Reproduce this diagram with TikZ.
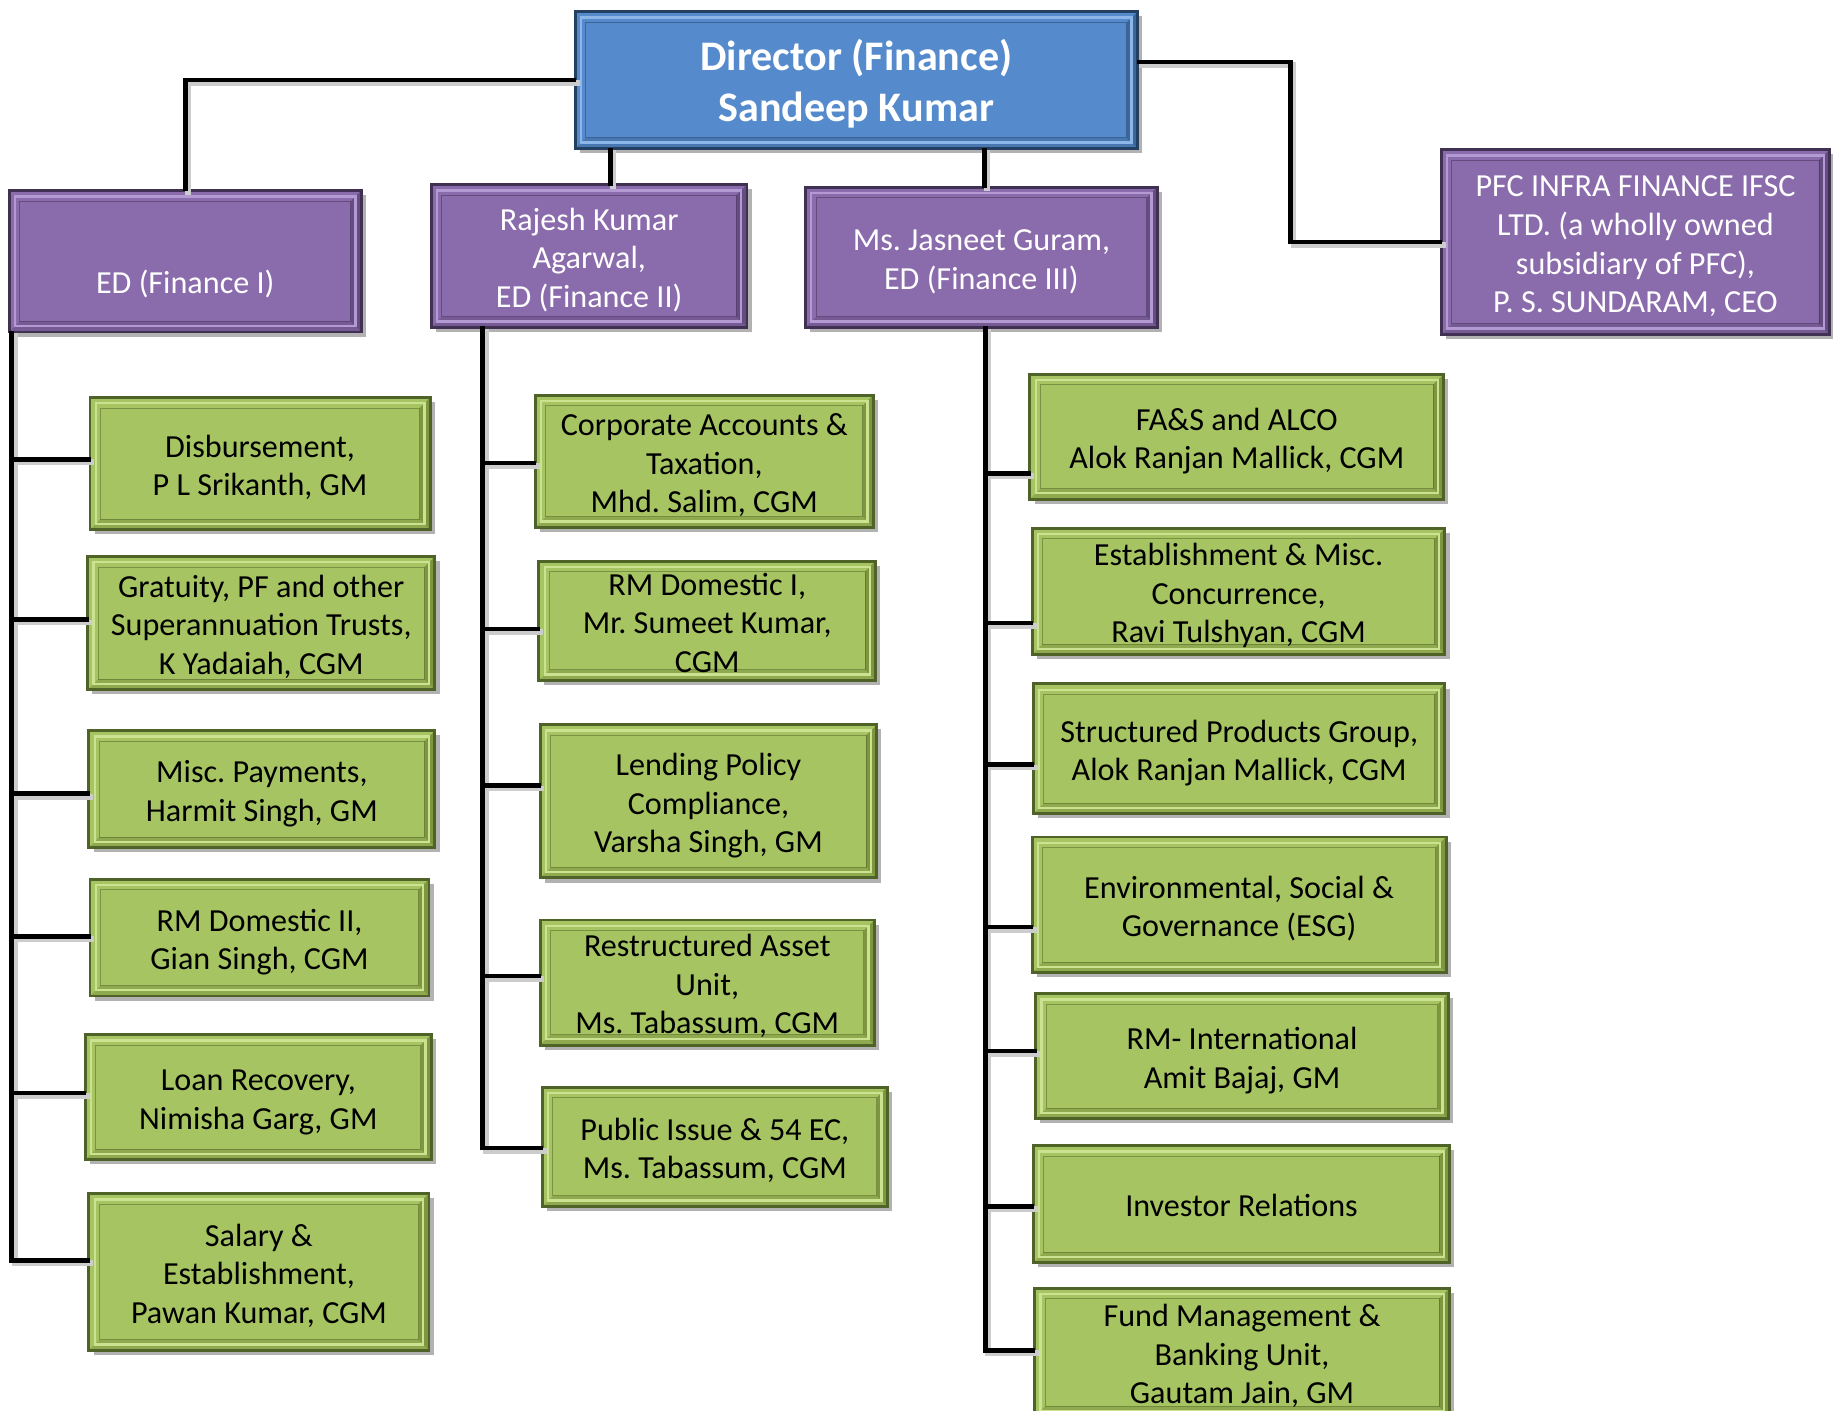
\documentclass[tikz,border=0pt]{standalone}
\usepackage{fontspec}
\setmainfont{Carlito}
\frenchspacing
\usetikzlibrary{shadows,calc}
\definecolor{gmain}{HTML}{A6C462}
\definecolor{gdark}{HTML}{4F6228}
\definecolor{gshade}{HTML}{7D963F}
\definecolor{glight}{HTML}{CBE291}
\definecolor{pmain}{HTML}{8A6BAC}
\definecolor{pdark}{HTML}{403152}
\definecolor{pshade}{HTML}{654D82}
\definecolor{plight}{HTML}{B49AD2}
\definecolor{bmain}{HTML}{558BCC}
\definecolor{bdark}{HTML}{244061}
\definecolor{bshade}{HTML}{3C6699}
\definecolor{blight}{HTML}{8CB6E8}
\newcommand\tsh{26pt}
\newcommand\tsd{10pt}
\tikzset{
  conn/.style={line width=4pt, line cap=rect, draw=black},
  connsh/.style={line width=5pt, line cap=rect, draw=black!20, transform canvas={shift={(2.5pt,-2.5pt)}}},
  bevelbox/.style n args={4}{rectangle, inner sep=0pt, align=center,
    fill=#1, draw=#2, line width=2.5pt,
    drop shadow={shadow xshift=4pt, shadow yshift=-4pt, opacity=0.3, fill=black},
    path picture={
      \fill[#3] (path picture bounding box.north east)
        -- ([shift={(-9pt,-9pt)}]path picture bounding box.north east)
        -- ([shift={(-9pt,9pt)}]path picture bounding box.south east)
        -- (path picture bounding box.south east) -- cycle;
      \fill[#3, opacity=0.55] (path picture bounding box.south east)
        -- ([shift={(-9pt,9pt)}]path picture bounding box.south east)
        -- ([shift={(9pt,9pt)}]path picture bounding box.south west)
        -- (path picture bounding box.south west) -- cycle;
      \draw[#4, line width=2pt] ([shift={(5pt,5pt)}]path picture bounding box.south west)
        rectangle ([shift={(-5pt,-5pt)}]path picture bounding box.north east);
      \draw[#2, line width=0.8pt, opacity=0.5] ([shift={(9pt,9pt)}]path picture bounding box.south west)
        rectangle ([shift={(-9pt,-9pt)}]path picture bounding box.north east);
    }},
  gbox/.style={bevelbox={gmain}{gdark}{gshade}{glight}, text=black,
    font=\fontsize{27.5}{33}\selectfont\renewcommand\tsh{29pt}\renewcommand\tsd{7pt}},
  pbox/.style={bevelbox={pmain}{pdark}{pshade}{plight}, text=white,
    font=\fontsize{27.5}{33}\selectfont\renewcommand\tsh{29pt}\renewcommand\tsd{7pt}},
  dbox/.style={bevelbox={bmain}{bdark}{bshade}{blight}, text=white,
    font=\bfseries\fontsize{36}{44}\selectfont\renewcommand\tsh{35.5pt}\renewcommand\tsd{8.5pt}},
}
\newcommand\mkbox[7]{\node[#2, minimum width=#5pt, minimum height=#6pt] (#1) at (#3,#4)
  {\rule{0pt}{\tsh}#7\rule[-\tsd]{0pt}{\tsd}};}
\newcommand\brn[4]{\coordinate (b#3) at ($(#3.west)+(0,#4)$); \draw[#1] (b#3 -| #2) -- (b#3);}
\newcommand\wires[1]{%
  \draw[#1] (dir.west) -| (ed1.north);
  \draw[#1] (dir.south -| x2) -- (rj.north -| x2);
  \draw[#1] (dir.south -| x3) -- (js.north -| x3);
  \draw[#1] ([yshift=15.5pt]dir.east) -| (pj) -- (pfc.west);
  \brn{#1}{t1}{dis}{-3.5}
  \brn{#1}{t1}{gra}{-3}
  \brn{#1}{t1}{misc}{4}
  \brn{#1}{t1}{rmd2}{-1}
  \brn{#1}{t1}{loan}{-3.5}
  \brn{#1}{t1}{sal}{-10}
  \brn{#1}{t2}{cat}{1.5}
  \brn{#1}{t2}{rmd1}{7}
  \brn{#1}{t2}{lpc}{-13.5}
  \brn{#1}{t2}{rau}{-5.5}
  \brn{#1}{t2}{pub}{1}
  \brn{#1}{t3}{fas}{31.5}
  \brn{#1}{t3}{emc}{27}
  \brn{#1}{t3}{spg}{13.5}
  \brn{#1}{t3}{esg}{19}
  \brn{#1}{t3}{rmi}{-4.5}
  \brn{#1}{t3}{inv}{2}
  \brn{#1}{t3}{fmb}{-2}
  \draw[#1] (ed1.south -| t1) -- (bsal -| t1);
  \draw[#1] (rj.south -| t2) -- (bpub -| t2);
  \draw[#1] (js.south -| t3) -- (bfmb -| t3);
}
\begin{document}
\begin{tikzpicture}[x=1pt,y=-1pt]
\clip (0,0) rectangle (1568,1207);
\fill[white] (0,0) rectangle (1568,1207);
% top level
\mkbox{dir}{dbox}{732.5}{68.5}{481}{117}{Director (Finance)\\Sandeep Kumar}
\mkbox{ed1}{pbox}{158.5}{223.5}{301}{121}{\\ED (Finance I)}
\mkbox{rj}{pbox}{504}{219}{270}{122}{Rajesh Kumar\\Agarwal,\\ED (Finance II)}
\mkbox{js}{pbox}{839.5}{220}{301}{120}{Ms. Jasneet Guram,\\ED (Finance III)}
\mkbox{pfc}{pbox}{1399}{207}{332}{158}{PFC INFRA FINANCE IFSC\\LTD. (a wholly owned\\subsidiary of PFC),\\P. S. SUNDARAM, CEO}
% column 1
\mkbox{dis}{gbox}{222.5}{396.5}{291}{113}{Disbursement,\\P L Srikanth, GM}
\mkbox{gra}{gbox}{223.5}{533}{297}{114}{Gratuity, PF and other\\Superannuation Trusts,\\K Yadaiah, CGM}
\mkbox{misc}{gbox}{224}{675}{296}{100}{Misc. Payments,\\Harmit Singh, GM}
\mkbox{rmd2}{gbox}{222}{802}{290}{100}{RM Domestic II,\\Gian Singh, CGM}
\mkbox{loan}{gbox}{221}{938.5}{296}{107}{Loan Recovery,\\Nimisha Garg, GM}
\mkbox{sal}{gbox}{221.5}{1088}{291}{134}{Salary \&\\Establishment,\\Pawan Kumar, CGM}
% column 2
\mkbox{cat}{gbox}{602.5}{394.5}{289}{113}{Corporate Accounts \&\\Taxation,\\Mhd. Salim, CGM}
\mkbox{rmd1}{gbox}{605}{531}{288}{102}{RM Domestic I,\\Mr. Sumeet Kumar,\\CGM}
\mkbox{lpc}{gbox}{606}{685.5}{288}{131}{Lending Policy\\Compliance,\\Varsha Singh, GM}
\mkbox{rau}{gbox}{605}{840.5}{286}{107}{Restructured Asset\\Unit,\\Ms. Tabassum, CGM}
\mkbox{pub}{gbox}{611.5}{981}{295}{102}{Public Issue \& 54 EC,\\Ms. Tabassum, CGM}
% column 3
\mkbox{fas}{gbox}{1058}{373.5}{354}{107}{FA\&S and ALCO\\Alok Ranjan Mallick, CGM}
\mkbox{emc}{gbox}{1059.5}{506}{353}{108}{Establishment \& Misc.\\Concurrence,\\Ravi Tulshyan, CGM}
\mkbox{spg}{gbox}{1060}{640.5}{352}{111}{Structured Products Group,\\Alok Ranjan Mallick, CGM}
\mkbox{esg}{gbox}{1060}{774}{354}{116}{Environmental, Social \&\\Governance (ESG)}
\mkbox{rmi}{gbox}{1062.5}{903.5}{353}{107}{RM- International\\Amit Bajaj, GM}
\mkbox{inv}{gbox}{1062}{1030}{356}{100}{Investor Relations}
\mkbox{fmb}{gbox}{1062.5}{1157}{355}{110}{Fund Management \&\\Banking Unit,\\Gautam Jain, GM}
% connectors
\coordinate (t1) at (10,0);
\coordinate (t2) at (413,0);
\coordinate (t3) at (843,0);
\coordinate (x2) at (522,0);
\coordinate (x3) at (842,0);
\coordinate (pj) at (1104,207);
\wires{connsh}
\wires{conn}
\end{tikzpicture}
\end{document}
